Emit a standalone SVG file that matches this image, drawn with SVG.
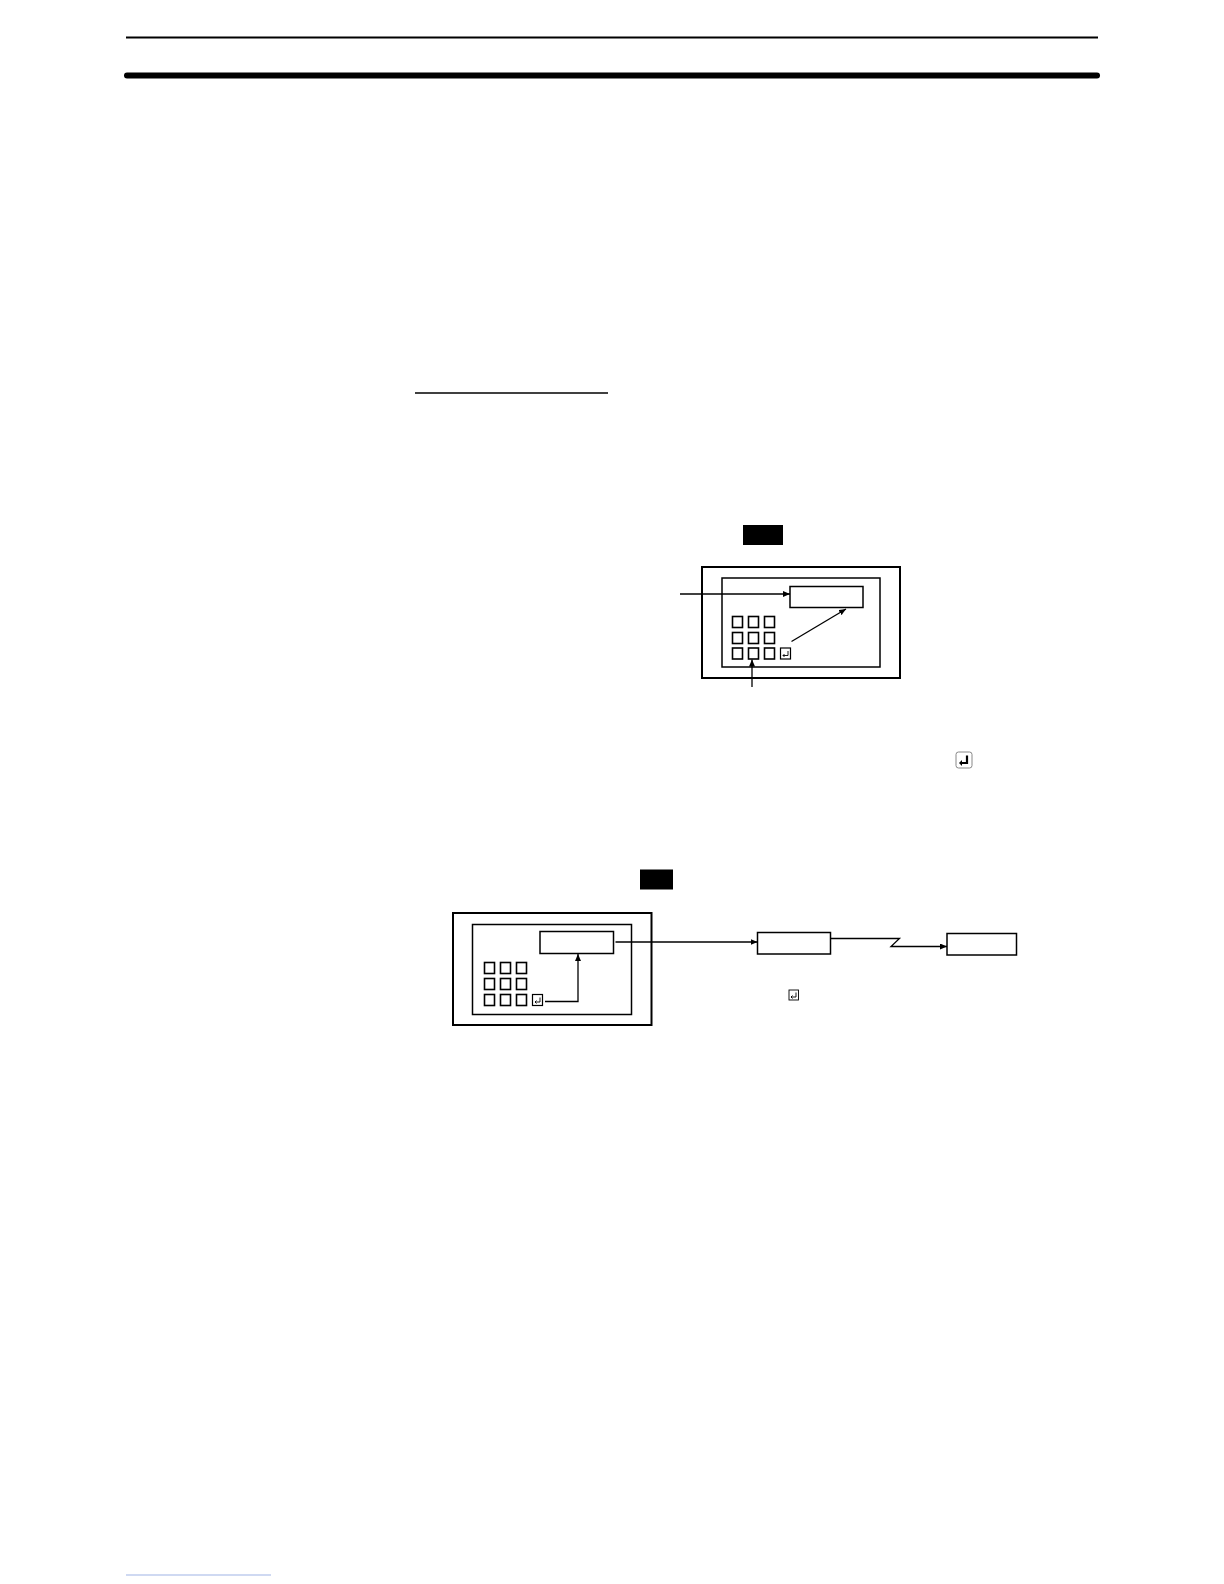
<svg xmlns="http://www.w3.org/2000/svg" width="1224" height="1584" viewBox="0 0 1224 1584">
<style>
.frame{fill:none;stroke:#000;stroke-width:2}
.inner{fill:none;stroke:#000;stroke-width:1.5}
.key{fill:#fff;stroke:#000;stroke-width:1.6}
.box{fill:#fff;stroke:#000;stroke-width:1.5}
.conn{fill:none;stroke:#000;stroke-width:1.3}
.sym{fill:none;stroke:#000;stroke-width:0.9}
</style>
<defs>
<marker id="ah" markerUnits="userSpaceOnUse" markerWidth="8" markerHeight="6" refX="7" refY="3" orient="auto">
<path d="M0,0 L7,3 L0,6 z" fill="#000"/>
</marker>
<g id="enterkey">
<rect x="0" y="0" width="10" height="11" fill="#fff" stroke="#000" stroke-width="1.2"/>
<path d="M7.5,3 V7.5 H2.5 M4,6 L2.5,7.5 L4,9" class="sym"/>
</g>
<g id="key"><rect x="0" y="0" width="10" height="11" class="key"/></g>
</defs>
<rect width="1224" height="1584" fill="#fff"/>
<g id="header">
<line x1="126" y1="37.5" x2="1098" y2="37.5" stroke="#000" stroke-width="2"/>
<line x1="127" y1="75.5" x2="1097" y2="75.5" stroke="#000" stroke-width="6" stroke-linecap="round"/>
</g>
<g id="underline"><line x1="415" y1="393" x2="608" y2="393" stroke="#000" stroke-width="1.5"/></g>
<g id="footer-link"><line x1="126" y1="1575" x2="271" y2="1575" stroke="#9fb3e6" stroke-width="1.2"/></g>

<g id="top-diagram">
<g id="top-badge"><rect x="743" y="525" width="40" height="20" fill="#000"/></g>
<g id="top-terminal">
<rect x="702" y="567" width="198" height="111" class="frame"/>
<rect x="722" y="578" width="158" height="89" class="inner"/>
</g>
<g id="top-display"><rect x="790" y="586.5" width="73" height="21" class="box"/></g>
<g id="top-keypad">
<use href="#key" x="732.5" y="616.5"/><use href="#key" x="748.5" y="616.5"/><use href="#key" x="764.5" y="616.5"/>
<use href="#key" x="732.5" y="632.5"/><use href="#key" x="748.5" y="632.5"/><use href="#key" x="764.5" y="632.5"/>
<use href="#key" x="732.5" y="648"/><use href="#key" x="748.5" y="648"/><use href="#key" x="764.5" y="648"/>
<use href="#enterkey" x="780.5" y="648"/>
</g>
<g id="top-connectors">
<line x1="680" y1="594" x2="790" y2="594" class="conn" marker-end="url(#ah)"/>
<line x1="791.5" y1="641.5" x2="846" y2="609" class="conn" marker-end="url(#ah)"/>
<line x1="752" y1="687" x2="752" y2="659.5" class="conn" marker-end="url(#ah)"/>
</g>
</g>

<g id="enter-icon">
<rect x="956" y="752" width="16" height="16" rx="2.5" fill="#fff" stroke="#888" stroke-width="1"/>
<path d="M967,755.5 V763 H961" fill="none" stroke="#000" stroke-width="2.2"/>
<path d="M959,763 L962,760 L962,766 z" fill="#000"/>
</g>

<g id="bottom-diagram">
<g id="bottom-badge"><rect x="640" y="869.5" width="33" height="20" fill="#000"/></g>
<g id="bottom-terminal">
<rect x="453" y="913" width="198.5" height="112" class="frame"/>
<rect x="472.5" y="924.5" width="159" height="90" class="inner"/>
</g>
<g id="bottom-display"><rect x="540" y="931.5" width="73.5" height="22" class="box"/></g>
<g id="bottom-keypad">
<use href="#key" x="484.5" y="962.5"/><use href="#key" x="500.5" y="962.5"/><use href="#key" x="516.5" y="962.5"/>
<use href="#key" x="484.5" y="978.5"/><use href="#key" x="500.5" y="978.5"/><use href="#key" x="516.5" y="978.5"/>
<use href="#key" x="484.5" y="994.5"/><use href="#key" x="500.5" y="994.5"/><use href="#key" x="516.5" y="994.5"/>
<use href="#enterkey" x="532.5" y="994.5"/>
</g>
<g id="node-box1"><rect x="757.5" y="932.5" width="73" height="21.5" class="box"/></g>
<g id="node-box2"><rect x="947" y="933.5" width="69.5" height="21.5" class="box"/></g>
<g id="small-enter">
<rect x="789" y="990" width="9.5" height="10" fill="#fff" stroke="#000" stroke-width="0.9"/>
<path d="M796,992.5 V997 H791 M792.5,995.5 L791,997 L792.5,998.5" class="sym"/>
</g>
<g id="bottom-connectors">
<polyline points="545,1001.5 578,1001.5 578,954" class="conn" marker-end="url(#ah)"/>
<line x1="615.5" y1="942" x2="757.5" y2="942" class="conn" marker-end="url(#ah)"/>
<polyline points="830.5,938.5 899.5,938.5 891,946.5 947,946.5" class="conn" marker-end="url(#ah)"/>
</g>
</g>
</svg>
